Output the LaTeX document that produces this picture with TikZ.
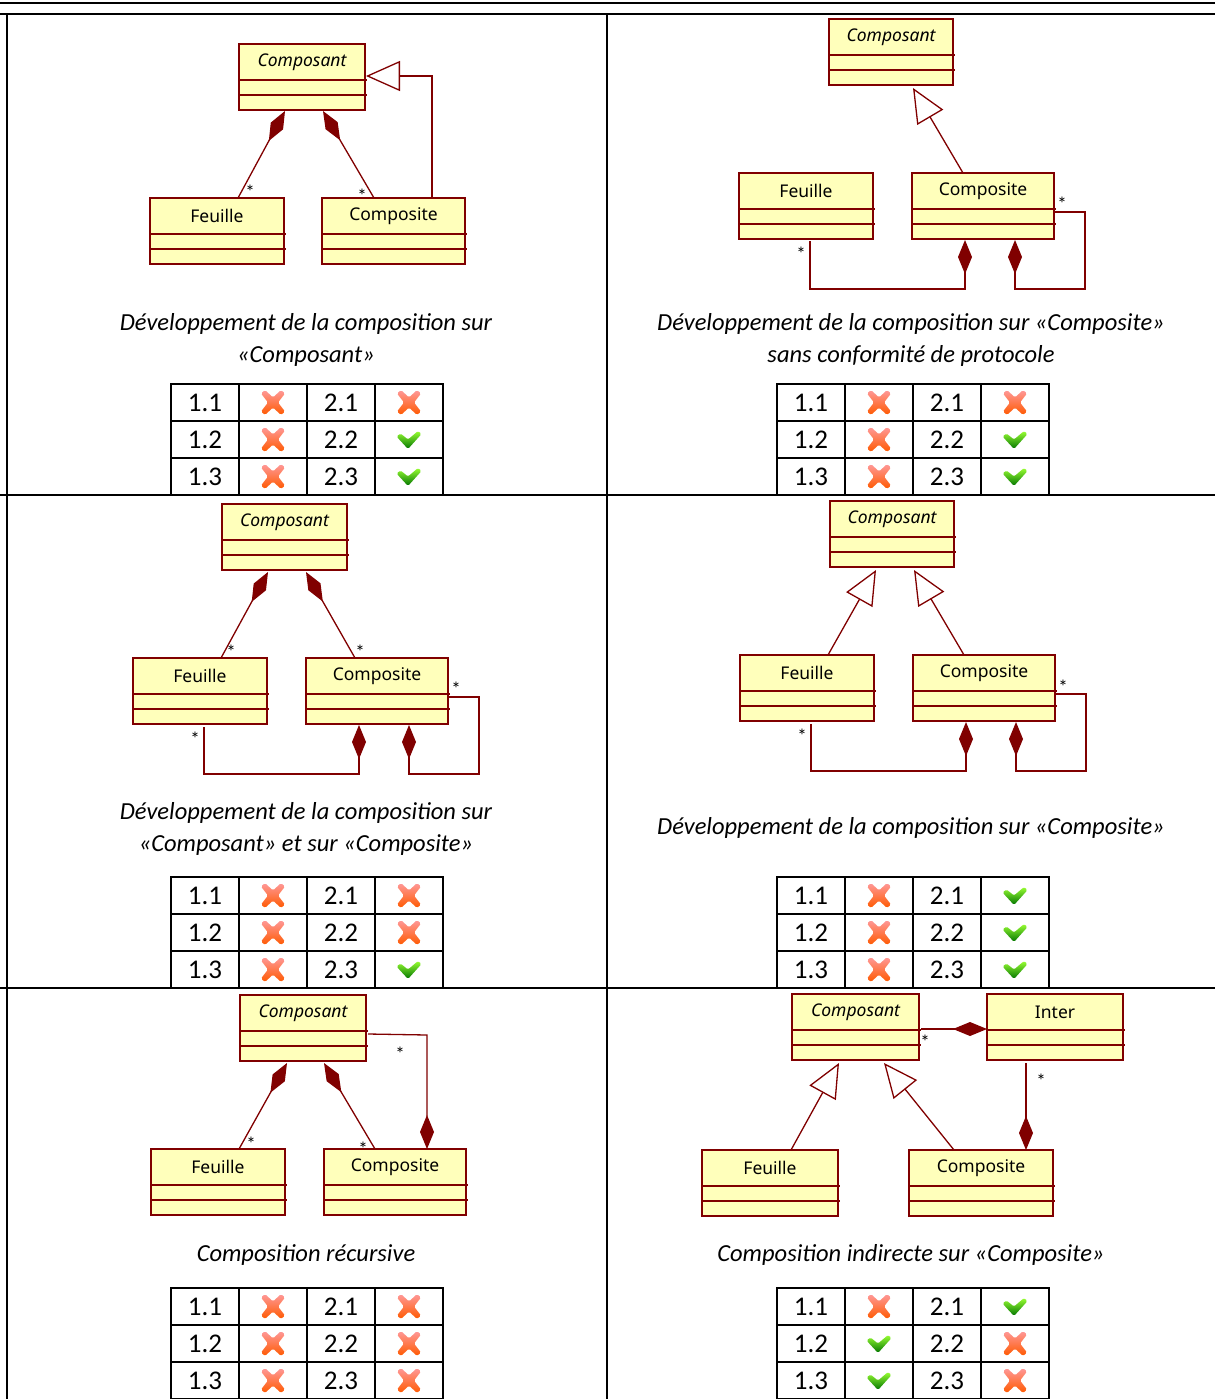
\documentclass[tikz,border=0pt]{standalone}
\usepackage{fontspec}
\setmainfont{Carlito}
\newfontfamily\umlfont{Noto Sans}
\usetikzlibrary{arrows.meta}
\definecolor{umlred}{HTML}{800000}
\definecolor{umlfill}{HTML}{FFFFBB}
\tikzset{%
  umlbox/.style   = {shape=rectangle, draw=umlred, fill=umlfill, line width=1.3pt,%
                     anchor=north west, inner sep=0pt, outer sep=0pt, minimum height=66pt},%
  umlname/.style  = {font=\umlfont\bfseries\fontsize{17.5}{20}\selectfont, inner sep=0pt},%
  umlline/.style  = {draw=umlred, line width=1.3pt},%
  compo/.style    = {umlline, {Diamond[length=34pt,width=14pt,fill=umlred]}-},%
  inherit/.style  = {umlline, {Triangle[open,length=34pt,width=30pt,fill=white]}-},%
  many/.style     = {font=\fontsize{19}{19}\selectfont, inner sep=0pt},%
  caption/.style  = {font=\itshape\fontsize{24.5}{32}\selectfont, align=center, inner sep=0pt},%
  cell/.style     = {shape=rectangle, draw=black, line width=2pt, inner sep=0pt, outer sep=0pt,%
                     minimum width=68pt, minimum height=37pt, font=\fontsize{27}{27}\selectfont},%
  rule/.style     = {draw=black, line width=2pt}%
}
% name, left, top, width, title
\newcommand{\umlclass}[5]{%
  \node[umlbox, minimum width=#4] (#1) at (#2,#3) {};
  \node[umlname] (#1name) at ([yshift=-18]#1.north) {#5};
  \draw[umlline] ([yshift=-36]#1.north west) -- ++(#4+2,0);
  \draw[umlline] ([yshift=-51]#1.north west) -- ++(#4+2,0);
}
\newcommand{\crossicon}[1]{%
  \shade[top color=red!40!white, middle color=red!75!orange, bottom color=orange!70!red, rounded corners=1.5pt, shift={(#1.center)}]
    (-12,-9) -- (-8,-12.5) -- (0,-5) -- (8,-12.5) -- (12,-9) -- (5,0) -- (12,9) -- (8,12.5) -- (0,5) -- (-8,12.5) -- (-12,9) -- (-5,0) -- cycle;
}
\newcommand{\checkicon}[1]{%
  \shade[top color=green!50!yellow!80!white, middle color=green!60!black, bottom color=green!45!black, rounded corners=1.5pt, shift={(#1.center)}]
    (-12.5,-3) -- (-8.5,-6) -- (-1,0) -- (9,-8.5) -- (12.5,-5.5) -- (-1,9.5) -- cycle;
}
% name, left, top, then the six marks
\newcommand{\restable}[9]{%
  \foreach \r/\p/\q in {1/#4/#7,2/#5/#8,3/#6/#9}{
    \node[cell] (#1a\r) at (#2+34,#3+18.5+37*\r-37) {1.\r};
    \node[cell] (#1b\r) at (#2+102,#3+18.5+37*\r-37) {};
    \node[cell] (#1c\r) at (#2+170,#3+18.5+37*\r-37) {2.\r};
    \node[cell] (#1d\r) at (#2+238,#3+18.5+37*\r-37) {};
    \p{#1b\r}
    \q{#1d\r}
  }
}
\begin{document}
\begin{tikzpicture}[x=1pt,y=-1pt]
  \useasboundingbox (0,0) rectangle (1215,1399);
  \foreach \ypos in {3,14,495,988}{
    \draw[rule] (0,\ypos) -- (1215,\ypos);
  }
  \foreach \xpos in {7,607}{
    \draw[rule] (\xpos,14) -- (\xpos,1399);
  }

  % top left
  \umlclass{compA}{239}{44}{126}{\itshape Composant}
  \umlclass{feuA}{150}{198}{134}{Feuille}
  \umlclass{cteA}{322}{198}{143}{Composite}
  \draw[compo] ([xshift=-17,yshift=-1]compA.south) -- ([xshift=21]feuA.north);
  \draw[compo] ([xshift=21,yshift=-1]compA.south) -- ([xshift=-19.5]cteA.north);
  \draw[inherit] ([xshift=1,yshift=-32]compA.north east) -| ([xshift=38.5]cteA.north);
  \node[many] (starA1) at (250,192) {*};
  \node[many] (starA2) at (362,196) {*};
  \node[caption] (capA) at (306,340) {Développement de la composition sur\\<<Composant>>};
  \restable{tabA}{171}{384}{\crossicon}{\crossicon}{\crossicon}{\crossicon}{\checkicon}{\checkicon}

  % top right
  \umlclass{compB}{829}{19}{124}{\itshape Composant}
  \umlclass{feuB}{739}{173}{134}{Feuille}
  \umlclass{cteB}{912}{173}{142}{Composite}
  \draw[inherit] ([xshift=22,yshift=-3]compB.south) -- ([xshift=-20]cteB.north);
  \draw[compo] ([xshift=-18,yshift=-1]cteB.south) -- ++(0,49) -| ([xshift=4,yshift=-2]feuB.south);
  \draw[compo] ([xshift=32,yshift=-1]cteB.south) -- ++(0,49) -| (1085,212) -- ([yshift=-39]cteB.north east);
  \node[many] (starB1) at (801,254) {*};
  \node[many] (starB2) at (1062,204) {*};
  \node[caption] (capB) at (911,340) {Développement de la composition sur <<Composite>>\\sans conformité de protocole};
  \restable{tabB}{777}{384}{\crossicon}{\crossicon}{\crossicon}{\crossicon}{\checkicon}{\checkicon}

  % middle left
  \umlclass{compC}{222}{504}{125}{\itshape Composant}
  \umlclass{feuC}{133}{658}{134}{Feuille}
  \umlclass{cteC}{306}{658}{142}{Composite}
  \draw[compo] ([xshift=-16.5,yshift=-2]compC.south) -- ([xshift=21]feuC.north);
  \draw[compo] ([xshift=21.5,yshift=-2]compC.south) -- ([xshift=-22]cteC.north);
  \draw[compo] ([xshift=-18,yshift=-1]cteC.south) -- ++(0,49) -| ([xshift=4,yshift=-3]feuC.south);
  \draw[compo] ([xshift=32,yshift=-1]cteC.south) -- ++(0,49) -| (479,697) -- ([yshift=-39]cteC.north east);
  \node[many] (starC1) at (231,652) {*};
  \node[many] (starC2) at (360,652) {*};
  \node[many] (starC3) at (195,739) {*};
  \node[many] (starC4) at (456,689) {*};
  \node[caption] (capC) at (306,829) {Développement de la composition sur\\<<Composant>> et sur <<Composite>>};
  \restable{tabC}{171}{877}{\crossicon}{\crossicon}{\crossicon}{\crossicon}{\crossicon}{\checkicon}

  % middle right
  \umlclass{compD}{830}{501}{124}{\itshape Composant}
  \umlclass{feuD}{740}{655}{134}{Feuille}
  \umlclass{cteD}{913}{655}{142}{Composite}
  \draw[inherit] ([xshift=-16,yshift=-3]compD.south) -- ([xshift=21]feuD.north);
  \draw[inherit] ([xshift=22,yshift=-3]compD.south) -- ([xshift=-20]cteD.north);
  \draw[compo] ([xshift=-18,yshift=-1]cteD.south) -- ++(0,49) -| ([xshift=4,yshift=-3]feuD.south);
  \draw[compo] ([xshift=32,yshift=-1]cteD.south) -- ++(0,49) -| (1086,694) -- ([yshift=-39]cteD.north east);
  \node[many] (starD1) at (802,736) {*};
  \node[many] (starD2) at (1063,687) {*};
  \node[caption] (capD) at (911,828) {Développement de la composition sur <<Composite>>};
  \restable{tabD}{777}{877}{\crossicon}{\crossicon}{\crossicon}{\checkicon}{\checkicon}{\checkicon}

  % bottom left
  \umlclass{compE}{240}{995}{126}{\itshape Composant}
  \umlclass{feuE}{151}{1149}{134}{Feuille}
  \umlclass{cteE}{324}{1149}{142}{Composite}
  \draw[compo] ([xshift=-16,yshift=-2]compE.south) -- ([xshift=21]feuE.north);
  \draw[compo] ([xshift=21,yshift=-2]compE.south) -- ([xshift=-20]cteE.north);
  \draw[compo] ([xshift=32]cteE.north) -- ++(0,-114) -- ([xshift=2,yshift=-39]compE.north east);
  \node[many] (starE1) at (251,1144) {*};
  \node[many] (starE2) at (363,1149) {*};
  \node[many] (starE3) at (400,1054) {*};
  \node[caption] (capE) at (306,1255) {Composition récursive};
  \restable{tabE}{171}{1288}{\crossicon}{\crossicon}{\crossicon}{\crossicon}{\crossicon}{\crossicon}

  % bottom right
  \umlclass{compF}{792}{994}{127}{\itshape Composant}
  \umlclass{interF}{987}{994}{136}{Inter}
  \umlclass{feuF}{702}{1150}{136}{Feuille}
  \umlclass{cteF}{909}{1150}{144}{Composite}
  \draw[compo] ([yshift=-35]interF.north west) -- ([xshift=2,yshift=-35]compF.north east);
  \draw[compo] ([xshift=45]cteF.north) -- ([xshift=-29,yshift=-3]interF.south);
  \draw[inherit] ([xshift=-16.5,yshift=-3]compF.south) -- ([xshift=21]feuF.north);
  \draw[inherit] ([xshift=28.5,yshift=-3]compF.south) -- ([xshift=-27]cteF.north);
  \node[many] (starF1) at (925,1042) {*};
  \node[many] (starF2) at (1041,1081) {*};
  \node[caption] (capF) at (911,1255) {Composition indirecte sur <<Composite>>};
  \restable{tabF}{777}{1288}{\crossicon}{\checkicon}{\checkicon}{\checkicon}{\crossicon}{\crossicon}
\end{tikzpicture}
\end{document}
